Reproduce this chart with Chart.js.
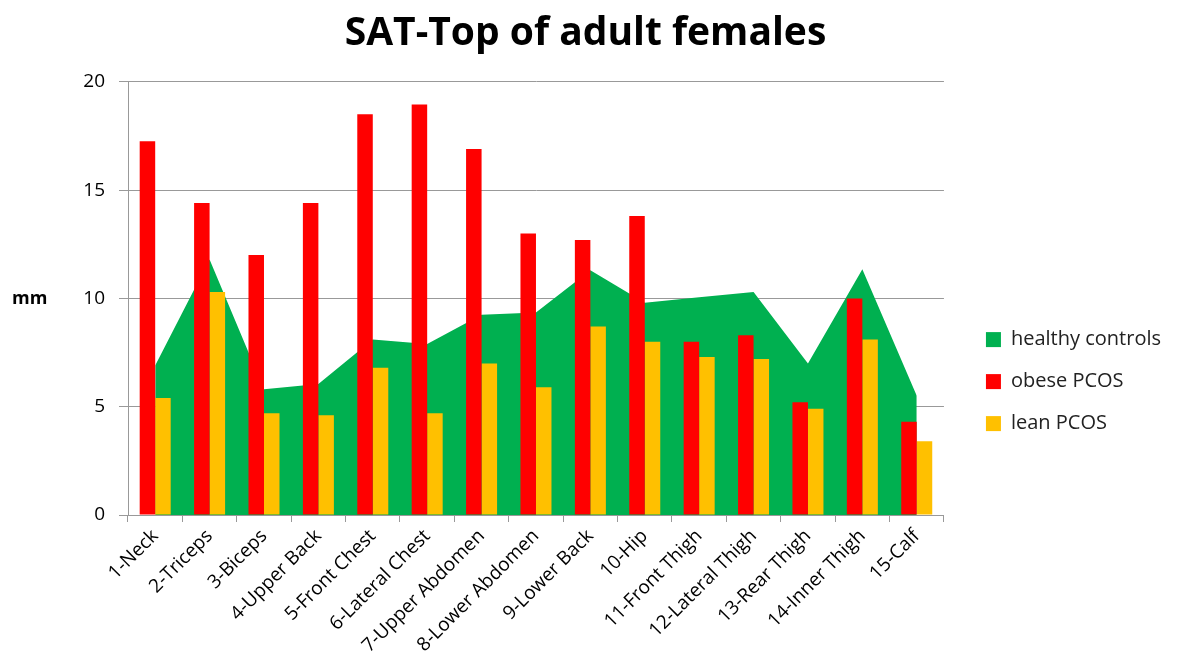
<!DOCTYPE html>
<html>
<head>
<meta charset="utf-8">
<script src="https://cdn.jsdelivr.net/npm/chart.js@4"></script>
<style>
  body { margin: 0; background: #fff; }
  #wrap { width: 1183px; height: 672px; position: relative; }
</style>
</head>
<body>
<div id="wrap"><canvas id="satChart"></canvas></div>
<script>
var sites = ['1-Neck', '2-Triceps', '3-Biceps', '4-Upper Back', '5-Front Chest', '6-Lateral Chest',
    '7-Upper Abdomen', '8-Lower Abdomen', '9-Lower Back', '10-Hip', '11-Front Thigh',
    '12-Lateral Thigh', '13-Rear Thigh', '14-Inner Thigh', '15-Calf'];
var healthy = [6.9, 11.8, 5.8, 6.05, 8.1, 7.9, 9.25, 9.35, 11.3, 9.8, 10.05, 10.3, 7.0, 11.35, 5.5];
var obese = [17.25, 14.4, 12.0, 14.4, 18.5, 18.95, 16.9, 13.0, 12.7, 13.8, 8.0, 8.3, 5.2, 10.0, 4.3];
var lean = [5.4, 10.3, 4.7, 4.6, 6.8, 4.7, 7.0, 5.9, 8.7, 8.0, 7.3, 7.2, 4.9, 8.1, 3.4];
var yTicks = [0, 5, 10, 15, 20];

var fontName = '"Open Sans", "Liberation Sans", sans-serif';

// horizontal "mm" label left of the y axis
var unitLabel = {
    id: 'unitLabel',
    afterDraw: function (chart) {
        var c = chart.ctx;
        var y = chart.scales.y;
        c.save();
        c.font = 'bold 18px ' + fontName;
        c.fillStyle = '#000';
        c.textAlign = 'left';
        c.textBaseline = 'middle';
        c.fillText('mm', 12, y.getPixelForValue(10));
        c.restore();
    }
};

var ctx = document.getElementById('satChart').getContext('2d');
var myChart = new Chart(ctx, {
    type: 'bar',
    data: {
        labels: sites,
        datasets: [{
            type: 'line',
            label: 'healthy controls',
            data: healthy,
            backgroundColor: 'rgb(0, 176, 80)',
            borderColor: 'rgba(0, 0, 0, 0)',
            borderWidth: 1,
            pointRadius: 0,
            tension: 0,
            fill: 'origin'
        }, {
            label: 'obese PCOS',
            data: obese,
            backgroundColor: 'rgb(255, 0, 0)',
            barPercentage: 1,
            categoryPercentage: 0.57
        }, {
            label: 'lean PCOS',
            data: lean,
            backgroundColor: 'rgb(255, 192, 0)',
            barPercentage: 1,
            categoryPercentage: 0.57
        }]
    },
    options: {
        responsive: true,
        maintainAspectRatio: false,
        animation: false,
        layout: { padding: { left: 0, right: 12, top: 0, bottom: 0 } },
        plugins: {
            filler: { drawTime: 'beforeDatasetsDraw' },
            tooltip: { enabled: false },
            title: {
                display: true,
                text: 'SAT-Top of adult females',
                color: '#000',
                font: { family: fontName, size: 39, weight: 'bold' },
                padding: { top: 10, bottom: 25 }
            },
            legend: {
                position: 'right',
                maxWidth: 260,
                title: {
                    display: true,
                    text: '',
                    font: { size: 1 },
                    padding: { top: 90, bottom: 0 }
                },
                labels: {
                    boxWidth: 15,
                    boxHeight: 15,
                    padding: 22,
                    color: '#222',
                    font: { family: fontName, size: 20 }
                }
            }
        },
        scales: {
            x: {
                offset: true,
                afterFit: function (scale) { scale.height = 157; },
                grid: {
                    display: true,
                    offset: true,
                    drawOnChartArea: false,
                    drawTicks: true,
                    tickLength: 7,
                    color: '#999'
                },
                border: { color: '#999' },
                ticks: {
                    color: '#000',
                    maxRotation: 45,
                    minRotation: 45,
                    font: { family: fontName, size: 19 }
                }
            },
            y: {
                min: 0,
                max: 20,
                afterFit: function (scale) { scale.width = 128; },
                afterBuildTicks: function (axis) {
                    axis.ticks = yTicks.map(function (v) { return { value: v }; });
                },
                grid: {
                    color: '#999',
                    drawTicks: true,
                    tickLength: 9
                },
                border: { color: '#999' },
                ticks: {
                    color: '#000',
                    padding: 14,
                    font: { family: fontName, size: 19 }
                }
            },
            yGap: {
                position: 'right',
                min: 0,
                max: 20,
                afterFit: function (scale) { scale.width = 20; },
                grid: { display: false },
                border: { display: false },
                ticks: { display: false }
            }
        }
    },
    plugins: [unitLabel]
});
</script>
</body>
</html>
